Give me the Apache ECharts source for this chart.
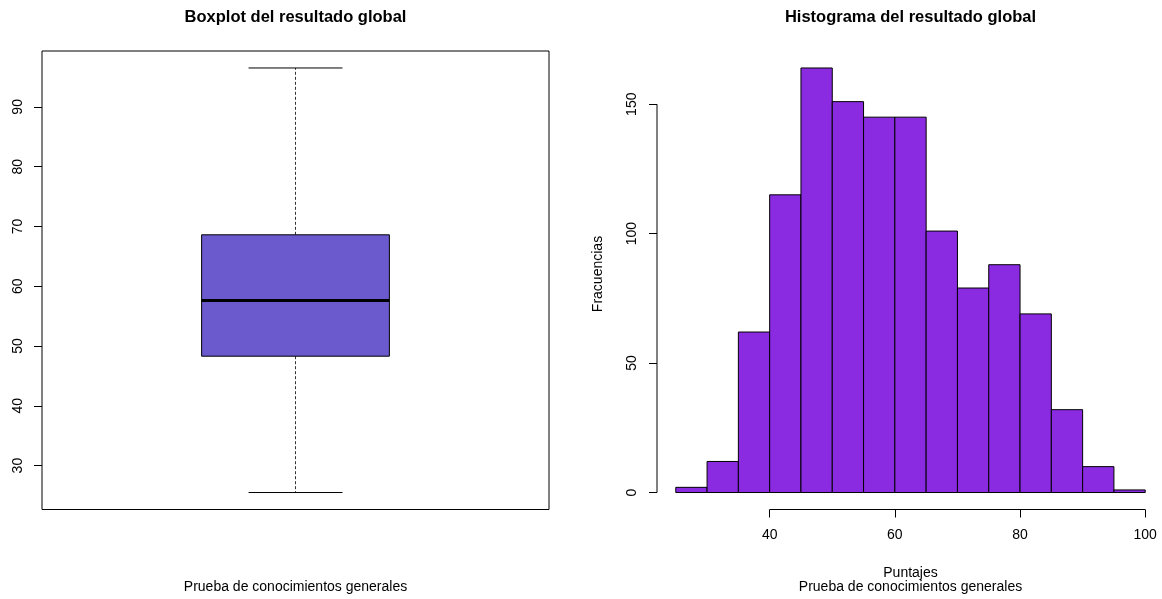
<!DOCTYPE html>
<html><head><meta charset="utf-8">
<script src="https://cdn.jsdelivr.net/npm/echarts@6/dist/echarts.min.js"></script>
<style>html,body{margin:0;padding:0;background:#fff}#c{width:1162px;height:599px}</style>
</head><body><div id="c"></div>
<script>
// ---- data ----
const boxStats = [25.5, 48.3, 57.6, 68.6, 96.5]; // min, Q1, median, Q3, max
const boxTicks = [30, 40, 50, 60, 70, 80, 90];
const binEdges = [25, 30, 35, 40, 45, 50, 55, 60, 65, 70, 75, 80, 85, 90, 95, 100];
const counts = [2, 12, 62, 115, 164, 151, 145, 145, 101, 79, 88, 69, 32, 10, 1];
const histXTicks = [40, 60, 80, 100];
const histYTicks = [0, 50, 100, 150];
const titles = ['Boxplot del resultado global', 'Histograma del resultado global'];
const subtitle = 'Prueba de conocimientos generales';
const xLabel = 'Puntajes';
const yLabel = 'Fracuencias';

// ---- helpers ----
const FONT = '"Liberation Sans", Arial, Helvetica, sans-serif';
function ext(a, b) { const d = (b - a) * 0.04; return [a - d, b + d]; }
const boxY = ext(Math.min(...boxStats), Math.max(...boxStats));
const histX = ext(binEdges[0], binEdges[binEdges.length - 1]);
const histY = ext(0, Math.max(...counts));
const histData = counts.map((c, i) => [binEdges[i], binEdges[i + 1], c]);

const chart = echarts.init(document.getElementById('c'), null, {renderer: 'canvas'});
const lbl = {color: '#000', fontSize: 14, fontFamily: FONT};

const option = {
  animation: false,
  backgroundColor: '#fff',
  grid: [
    {left: 42, top: 51, width: 507, height: 458.5, show: true, borderColor: '#000', borderWidth: 1, backgroundColor: 'transparent', outerBoundsMode: 'none', containLabel: false},
    {left: 657, top: 51, width: 507, height: 458.5, show: false, outerBoundsMode: 'none', containLabel: false}
  ],
  xAxis: [
    {gridIndex: 0, type: 'value', min: 0.46, max: 1.54, show: false},
    {gridIndex: 1, type: 'value', min: histX[0], max: histX[1],
     axisLine: {show: false, onZero: false},
     splitLine: {show: false},
     axisTick: {show: true, length: 8, lineStyle: {color: '#000', width: 1}, customValues: histXTicks},
     axisLabel: Object.assign({margin: 19, customValues: histXTicks}, lbl)}
  ],
  yAxis: [
    {gridIndex: 0, type: 'value', min: boxY[0], max: boxY[1],
     axisLine: {show: false},
     splitLine: {show: false},
     axisTick: {show: true, length: 8, lineStyle: {color: '#000', width: 1}, customValues: boxTicks},
     axisLabel: Object.assign({margin: 17, rotate: 90, customValues: boxTicks}, lbl)},
    {gridIndex: 1, type: 'value', min: histY[0], max: histY[1],
     axisLine: {show: false, onZero: false},
     splitLine: {show: false},
     axisTick: {show: true, length: 8, lineStyle: {color: '#000', width: 1}, customValues: histYTicks},
     axisLabel: Object.assign({margin: 18, rotate: 90, customValues: histYTicks}, lbl)}
  ],
  series: [
    {
      type: 'custom', xAxisIndex: 0, yAxisIndex: 0,
      data: [[1].concat(boxStats)],
      renderItem: function (params, api) {
        const x = api.value(0);
        const mn = api.value(1), q1 = api.value(2), md = api.value(3), q3 = api.value(4), mx = api.value(5);
        const bw = 0.2, sw = 0.1;
        const tl = api.coord([x - bw, q3]), br = api.coord([x + bw, q1]);
        const c = (xv, yv) => api.coord([xv, yv]);
        const line = (a, b, style) => ({type: 'line', shape: {x1: a[0], y1: a[1], x2: b[0], y2: b[1]}, style: style});
        const dash = {stroke: '#333', lineWidth: 1, lineDash: [3, 2]};
        const solid = {stroke: '#000', lineWidth: 1};
        return {type: 'group', children: [
          line(c(x, q3), c(x, mx), dash),
          line(c(x, q1), c(x, mn), dash),
          line(c(x - sw, mx), c(x + sw, mx), solid),
          line(c(x - sw, mn), c(x + sw, mn), solid),
          {type: 'rect', shape: {x: tl[0], y: tl[1], width: br[0] - tl[0], height: br[1] - tl[1]},
           style: {fill: '#6A5ACD', stroke: '#000', lineWidth: 1}},
          line(c(x - bw, md), c(x + bw, md), {stroke: '#000', lineWidth: 3})
        ]};
      }
    },
    {
      type: 'custom', xAxisIndex: 1, yAxisIndex: 1,
      data: histData,
      renderItem: function (params, api) {
        const a = api.coord([api.value(0), api.value(2)]);
        const b = api.coord([api.value(1), 0]);
        return {type: 'rect', shape: {x: a[0], y: a[1], width: b[0] - a[0], height: b[1] - a[1]},
                style: {fill: '#8A2BE2', stroke: '#000', lineWidth: 1}};
      }
    },
    {
      type: 'custom', xAxisIndex: 1, yAxisIndex: 1, clip: false, silent: true,
      data: [[0]],
      renderItem: function (params, api) {
        const xa = api.coord([histXTicks[0], histY[0]]), xb = api.coord([histXTicks[histXTicks.length - 1], histY[0]]);
        const ya = api.coord([histX[0], histYTicks[0]]), yb = api.coord([histX[0], histYTicks[histYTicks.length - 1]]);
        const st = {stroke: '#000', lineWidth: 1};
        return {type: 'group', children: [
          {type: 'line', shape: {x1: xa[0], y1: xa[1], x2: xb[0], y2: xb[1]}, style: st},
          {type: 'line', shape: {x1: ya[0], y1: ya[1], x2: yb[0], y2: yb[1]}, style: st}
        ]};
      }
    }
  ],
  graphic: [
    {type: 'text', x: 295.5, y: 17, style: {text: titles[0], align: 'center', verticalAlign: 'middle', fontSize: 16.5, fontWeight: 'bold', fontFamily: FONT, fill: '#000'}},
    {type: 'text', x: 910.5, y: 17, style: {text: titles[1], align: 'center', verticalAlign: 'middle', fontSize: 16.5, fontWeight: 'bold', fontFamily: FONT, fill: '#000'}},
    {type: 'text', x: 295.5, y: 587, style: {text: subtitle, align: 'center', verticalAlign: 'middle', fontSize: 14, fontFamily: FONT, fill: '#000'}},
    {type: 'text', x: 910.5, y: 587, style: {text: subtitle, align: 'center', verticalAlign: 'middle', fontSize: 14, fontFamily: FONT, fill: '#000'}},
    {type: 'text', x: 910.5, y: 573, style: {text: xLabel, align: 'center', verticalAlign: 'middle', fontSize: 14, fontFamily: FONT, fill: '#000'}},
    {type: 'text', x: 598, y: 274, rotation: Math.PI / 2, style: {text: yLabel, align: 'center', verticalAlign: 'middle', fontSize: 14, fontFamily: FONT, fill: '#000'}}
  ]
};
chart.setOption(option);
</script>
</body></html>
